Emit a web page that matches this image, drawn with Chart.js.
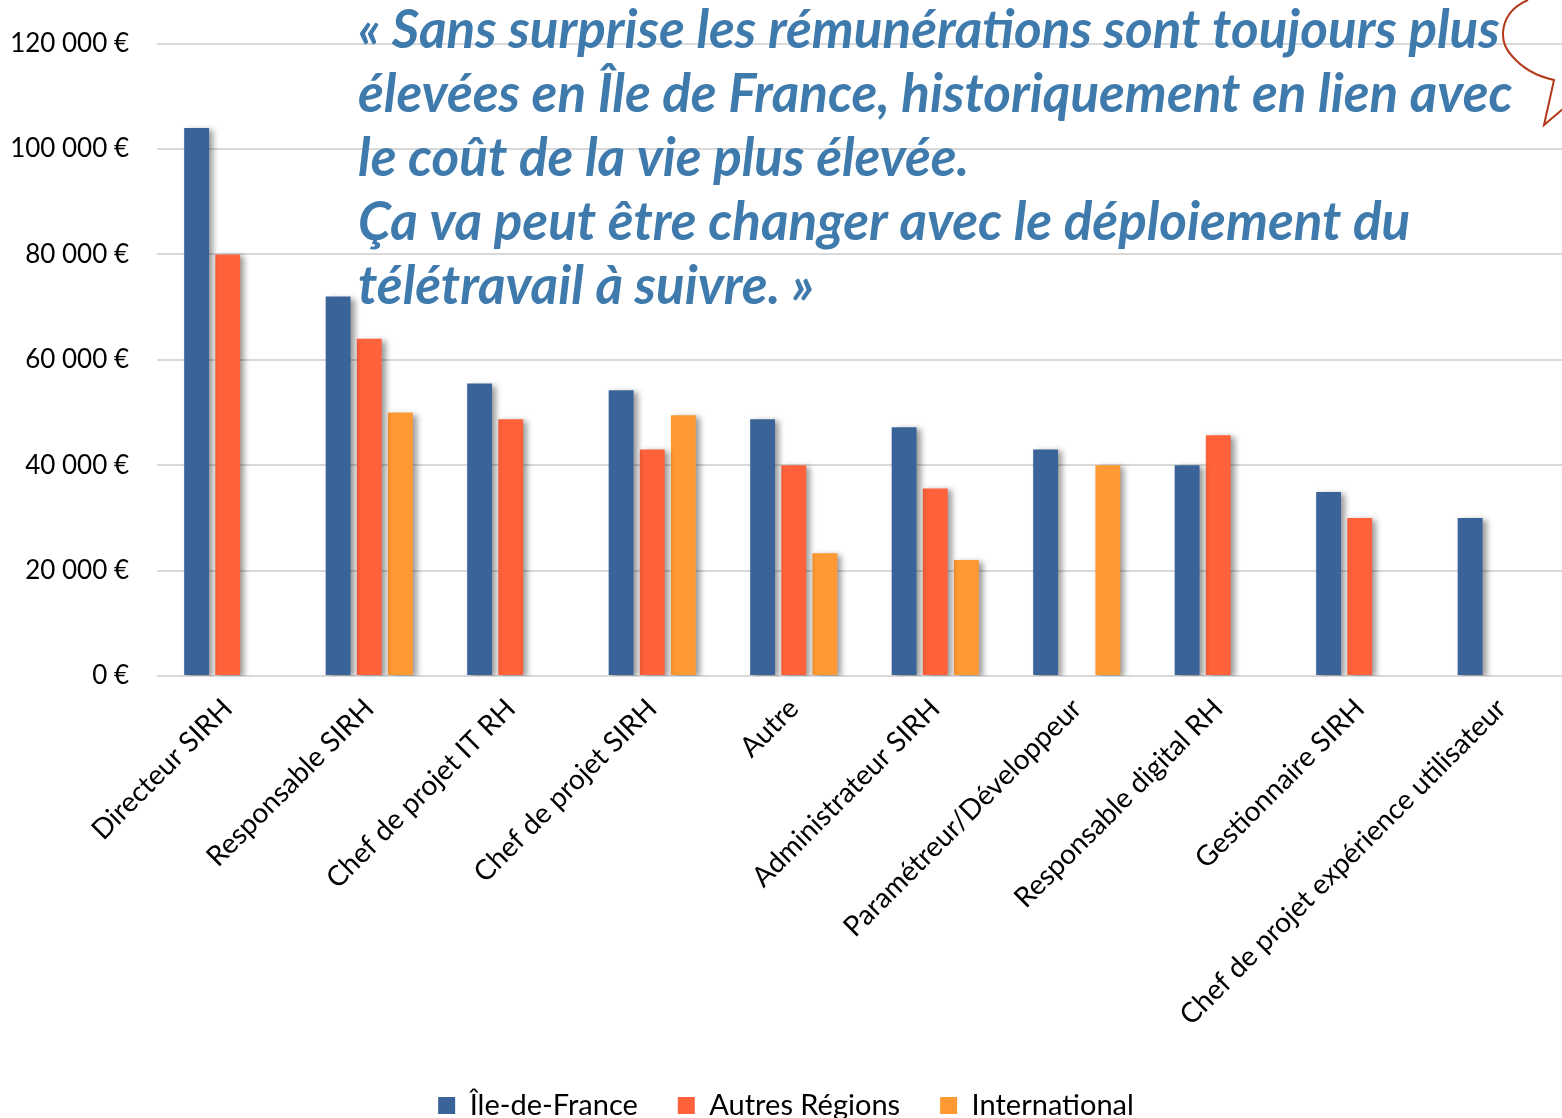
<!DOCTYPE html>
<html>
<head>
<meta charset="utf-8">
<script src="https://cdn.jsdelivr.net/npm/chart.js@4.4.1/dist/chart.umd.min.js"></script>
<style>
  html, body { margin: 0; padding: 0; background: #fff; overflow: hidden; }
  #wrap { width: 1572px; height: 1118px; position: relative; }
</style>
</head>
<body>
<div id="wrap"><canvas id="c"></canvas></div>
<script>
const categories = [
  "Directeur SIRH", "Responsable SIRH", "Chef de projet IT RH", "Chef de projet SIRH",
  "Autre", "Administrateur SIRH", "Paramétreur/Développeur", "Responsable digital RH",
  "Gestionnaire SIRH", "Chef de projet expérience utilisateur"
];
const ileDeFrance   = [104000, 72000, 55500, 54200, 48700, 47200, 43000, 40000, 34900, 30000];
const autresRegions = [80000, 64000, 48700, 43000, 40000, 35600, null, 45700, 30000, null];
const international = [null, 50000, null, 49500, 23300, 22000, 40000, null, null, null];
const seriesNames = ["Île-de-France", "Autres Régions", "International"];
const yTicks = [0, 20000, 40000, 60000, 80000, 100000, 120000];
const quoteLines = [
  "« Sans surprise les rémunérations sont toujours plus",
  "élevées en Île de France, historiquement en lien avec",
  "le coût de la vie plus élevée.",
  "Ça va peut être changer avec le déploiement du",
  "télétravail à suivre. »"
];

const FONT = "Lato, 'Open Sans', sans-serif";

const shadowPlugin = {
  id: 'barShadow',
  beforeDatasetsDraw(chart) {
    const ctx = chart.ctx;
    ctx.save();
    ctx.shadowColor = 'rgba(0,0,0,0.4)';
    ctx.shadowBlur = 6;
    ctx.shadowOffsetX = 4;
    ctx.shadowOffsetY = 2;
  },
  afterDatasetsDraw(chart) {
    chart.ctx.restore();
  }
};

const quotePlugin = {
  id: 'quote',
  afterDraw(chart) {
    const ctx = chart.ctx;
    ctx.save();
    ctx.strokeStyle = '#B33A1A';
    ctx.lineWidth = 2;
    ctx.beginPath();
    ctx.moveTo(1528, 0);
    ctx.bezierCurveTo(1500, 12, 1497, 40, 1512, 56);
    ctx.bezierCurveTo(1524, 70, 1540, 77, 1554, 80);
    ctx.lineTo(1544, 125);
    ctx.lineTo(1564, 108);
    ctx.stroke();
    let size = 44;
    ctx.font = `italic bold ${size}px ${FONT}`;
    const w = ctx.measureText(quoteLines[0]).width;
    size = size * 1142 / w;
    ctx.font = `italic bold ${size}px ${FONT}`;
    ctx.fillStyle = '#3F7AAD';
    ctx.textBaseline = 'alphabetic';
    ctx.textAlign = 'left';
    quoteLines.forEach((l, i) => ctx.fillText(l, 358, 48 + i * 64));
    ctx.restore();
  }
};

new Chart(document.getElementById('c'), {
  type: 'bar',
  data: {
    labels: categories,
    datasets: [
      { label: seriesNames[0], data: ileDeFrance, backgroundColor: '#3A6499' },
      { label: seriesNames[1], data: autresRegions, backgroundColor: '#FF623A' },
      { label: seriesNames[2], data: international, backgroundColor: '#FF9933' }
    ]
  },
  options: {
    responsive: true,
    maintainAspectRatio: false,
    animation: false,
    devicePixelRatio: 1,
    layout: { padding: { top: 30, left: 0, right: 0, bottom: -12 } },
    datasets: { bar: { categoryPercentage: 0.66, barPercentage: 0.8 } },
    plugins: {
      legend: {
        position: 'bottom',
        labels: {
          font: { family: FONT, size: 29 },
          color: '#000',
          boxWidth: 17,
          boxHeight: 17,
          padding: 40
        }
      },
      tooltip: { enabled: false }
    },
    scales: {
      x: {
        grid: { display: false },
        border: { display: false },
        ticks: {
          font: { family: FONT, size: 28 },
          color: '#000',
          maxRotation: 45,
          minRotation: 45,
          autoSkip: false,
          padding: 8
        },
        afterFit(scale) { scale.height = 375; }
      },
      y: {
        min: 0,
        max: 120000,
        afterBuildTicks(scale) { scale.ticks = yTicks.map(v => ({ value: v })); },
        grid: { color: '#D9D9D9', lineWidth: 2, drawTicks: false },
        border: { display: false },
        ticks: {
          font: { family: FONT, size: 26 },
          color: '#000',
          padding: 28,
          callback: v => (v === 0 ? '0' : v.toLocaleString('fr-FR').replace(/\s|\u202f|\u00a0/g, ' ')) + ' €'
        },
        afterFit(scale) { scale.width = 157; }
      }
    }
  },
  plugins: [shadowPlugin, quotePlugin]
});
</script>
</body>
</html>
